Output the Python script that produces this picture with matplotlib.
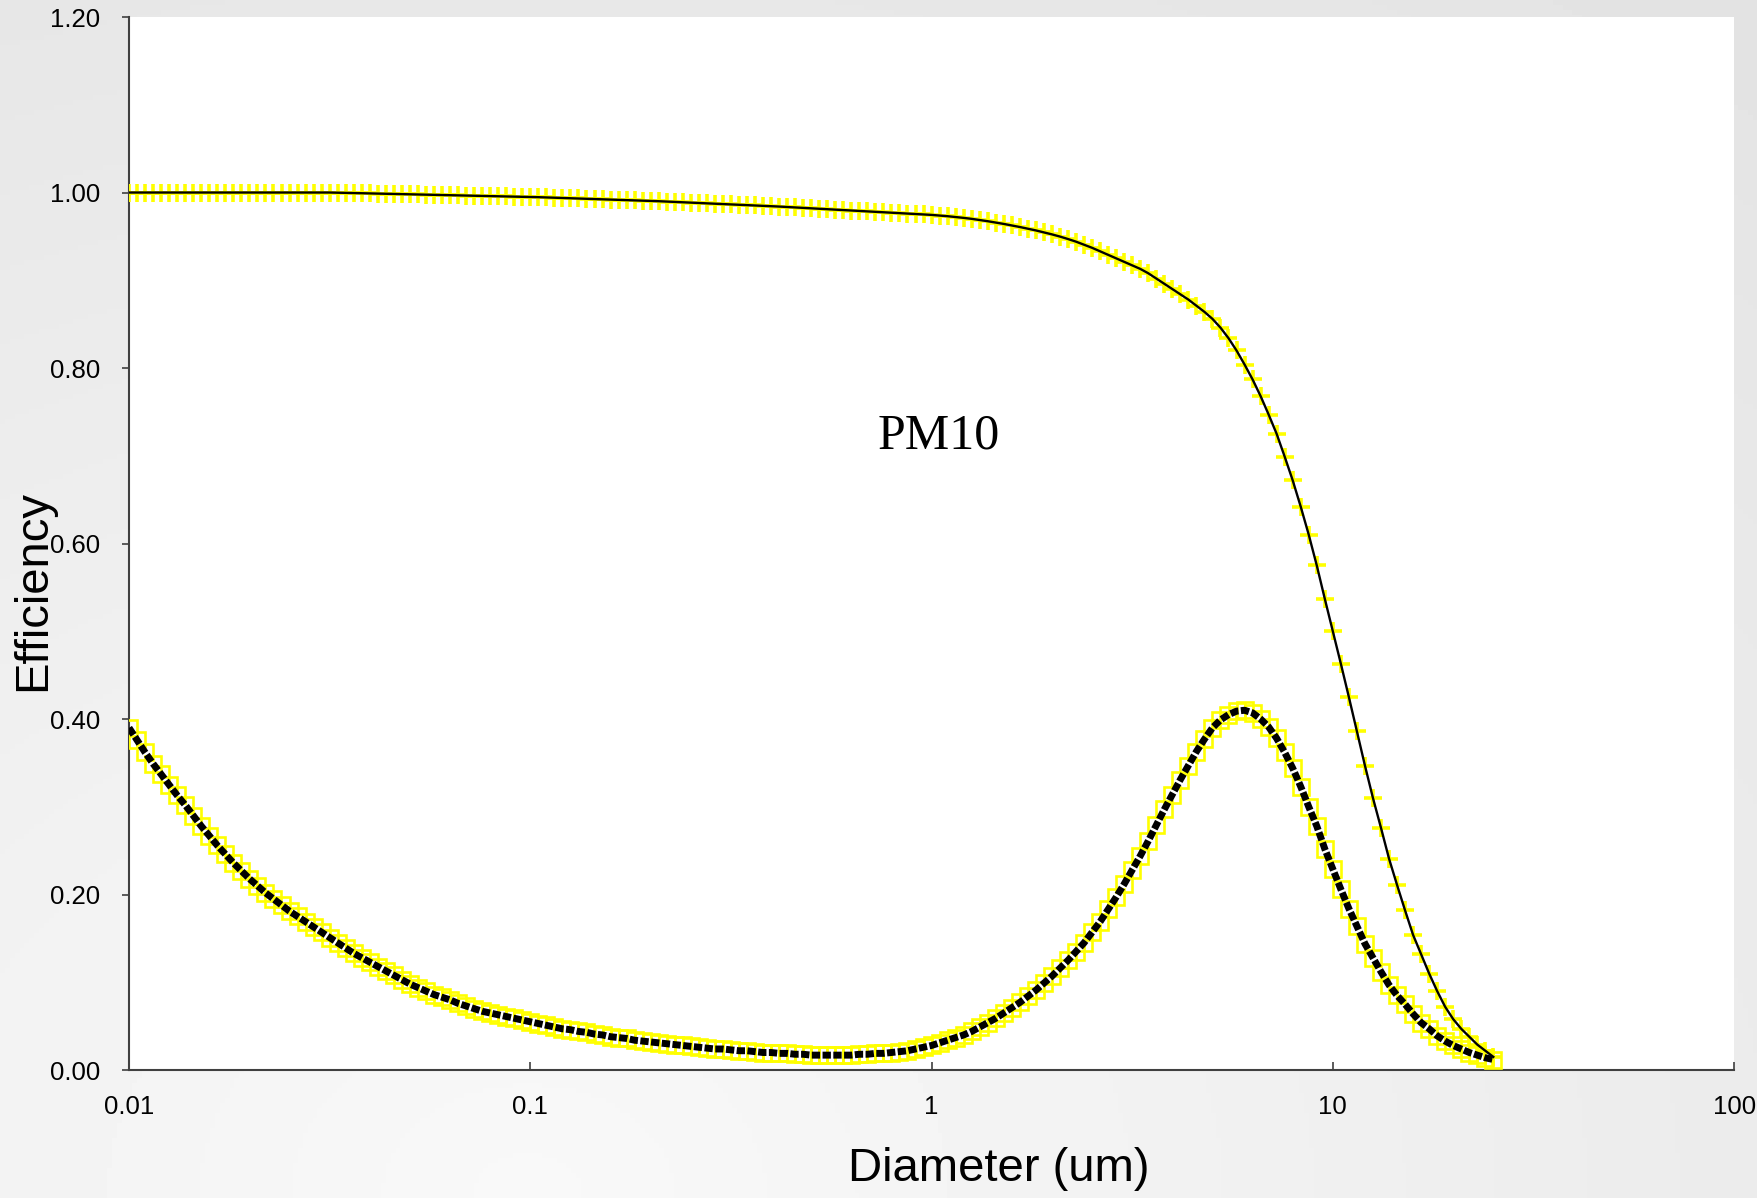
"""Recreate the PM10 efficiency chart (efficiency vs particle diameter)."""
import numpy as np
import matplotlib.pyplot as plt
from matplotlib.ticker import FixedLocator, FixedFormatter, NullLocator

plt.rcParams['font.family'] = ['Liberation Sans', 'DejaVu Sans']

# sampling grid: 50 points per decade, 0.01 um up to ~25 um
diameter_um = np.logspace(-2, 1.4, 171)

# upper curve (+ markers)
pm10_eff = (
    [1.000] * 26 +
    [0.9998, 0.9996, 0.9994, 0.9992, 0.9990, 0.9988, 0.9986, 0.9984, 0.9982, 0.9980,
     0.9978, 0.9976, 0.9974, 0.9972, 0.9970, 0.9968, 0.9966, 0.9964, 0.9962, 0.9960,
     0.9958, 0.9956, 0.9954, 0.9952, 0.9950] +
    [0.9947, 0.9944, 0.9941, 0.9938, 0.9935, 0.9932, 0.9929, 0.9926, 0.9923, 0.9920,
     0.9917, 0.9914, 0.9911, 0.9908, 0.9905, 0.9901, 0.9897, 0.9893, 0.9889, 0.9885,
     0.9881, 0.9877, 0.9873, 0.9869, 0.9865, 0.9861, 0.9857, 0.9853, 0.9849, 0.9845,
     0.9840, 0.9835, 0.9830, 0.9825, 0.9820, 0.9815, 0.9810, 0.9805, 0.9800, 0.9795,
     0.9790, 0.9785, 0.9780, 0.9775, 0.9770, 0.9765, 0.9760, 0.9755, 0.9750, 0.9745] +
    [0.9738, 0.9730, 0.9721, 0.9711, 0.9700, 0.9687, 0.9673, 0.9658, 0.9642, 0.9625,
     0.9607, 0.9588, 0.9568, 0.9546, 0.9523, 0.9498, 0.9470, 0.9440, 0.9405, 0.9370,
     0.933, 0.929, 0.925, 0.921, 0.917, 0.913, 0.908, 0.902, 0.896, 0.890,
     0.884, 0.878, 0.871, 0.864, 0.856, 0.846, 0.834, 0.820, 0.804, 0.787,
     0.768, 0.747, 0.725, 0.699, 0.672, 0.642, 0.610, 0.575, 0.537, 0.500,
     0.463, 0.425, 0.386, 0.347, 0.310, 0.276, 0.241, 0.211, 0.182, 0.154,
     0.132, 0.110, 0.090, 0.072, 0.058, 0.047, 0.038, 0.029, 0.022, 0.015]
)

# lower curve (square markers)
deposit_eff = [
    0.390, 0.376, 0.362, 0.349, 0.337, 0.325, 0.313, 0.302, 0.290, 0.278,
    0.267, 0.256, 0.246, 0.236, 0.227, 0.218, 0.210, 0.202, 0.195, 0.188,
    0.181,
    0.175, 0.169, 0.163, 0.157, 0.151, 0.145, 0.139, 0.133, 0.128, 0.123,
    0.118, 0.113, 0.108, 0.103, 0.098, 0.094, 0.090, 0.086, 0.083, 0.080,
    0.076, 0.073, 0.070, 0.067, 0.065, 0.063, 0.061, 0.059, 0.057, 0.055,
    0.053, 0.051, 0.049, 0.047, 0.046, 0.044, 0.043, 0.041, 0.040, 0.038,
    0.037, 0.036, 0.034, 0.033, 0.032, 0.031, 0.030, 0.029, 0.028, 0.027,
    0.026, 0.025, 0.024, 0.024, 0.023, 0.022, 0.022, 0.021, 0.020, 0.020,
    0.019, 0.019, 0.018, 0.018, 0.017, 0.017, 0.017, 0.017, 0.017, 0.017,
    0.018, 0.018, 0.019, 0.019, 0.020, 0.021, 0.022, 0.024, 0.026, 0.028,
    0.031, 0.034, 0.037, 0.040, 0.044, 0.049, 0.054, 0.059, 0.065, 0.071,
    0.077, 0.084, 0.091, 0.099, 0.107, 0.116, 0.125, 0.135, 0.145, 0.157,
    0.169, 0.183, 0.197, 0.212, 0.228, 0.244, 0.261, 0.279, 0.297, 0.314,
    0.331, 0.347, 0.363, 0.377, 0.390, 0.399, 0.405, 0.409, 0.410, 0.407,
    0.400, 0.391, 0.378, 0.362, 0.344, 0.323, 0.300, 0.278, 0.252, 0.229,
    0.206, 0.184, 0.164, 0.144, 0.128, 0.112, 0.097, 0.085, 0.075, 0.064,
    0.054, 0.047, 0.039, 0.033, 0.028, 0.024, 0.020, 0.017, 0.014, 0.012,
]

x_ticks = [0.01, 0.1, 1, 10, 100]
x_tick_labels = ['0.01', '0.1', '1', '10', '100']
y_ticks = [0.0, 0.2, 0.4, 0.6, 0.8, 1.0, 1.2]
y_tick_labels = ['%.2f' % v for v in y_ticks]

AXIS_COLOR = '#404040'
YELLOW = '#ffff00'


def draw_background(fig):
    """Soft grey slide-style gradient behind the plot."""
    bg = fig.add_axes([0, 0, 1, 1], zorder=-10)
    yy, xx = np.mgrid[0:1:240j, 0:1:360j]
    dist = np.sqrt((xx - 0.3) ** 2 + (yy * 0.9) ** 2)
    bg.imshow(0.975 - 0.075 * dist, cmap='gray', vmin=0, vmax=1,
              extent=[0, 1, 0, 1], origin='lower', aspect='auto')
    bg.axis('off')


def main():
    assert len(pm10_eff) == len(diameter_um) == len(deposit_eff)

    fig = plt.figure(figsize=(17.58, 11.98), dpi=100)
    draw_background(fig)

    ax = fig.add_axes([0.0734, 0.1068, 0.9130, 0.8790])
    ax.set_facecolor('white')

    # upper curve: yellow plus markers under a thin black line
    ax.plot(diameter_um, pm10_eff, linestyle='none', marker='+',
            markersize=13, markeredgewidth=2.6, color=YELLOW, zorder=3)
    ax.plot(diameter_um, pm10_eff, color='black', linewidth=1.7, zorder=4)

    # lower curve: hollow yellow squares under a thick dotted black line
    ax.plot(diameter_um, deposit_eff, linestyle='none', marker='s',
            markersize=11, markerfacecolor='none', markeredgewidth=1.9,
            markeredgecolor=YELLOW, zorder=3)
    ax.plot(diameter_um, deposit_eff, color='black', linewidth=5,
            linestyle=(0, (1.2, 0.35)), zorder=4)

    ax.text(1.04, 0.7225, 'PM10', fontsize=36, family='Liberation Serif',
            ha='center', va='center')

    ax.set_xscale('log')
    ax.set_xlim(0.01, 100)
    ax.set_ylim(0, 1.2)

    ax.xaxis.set_major_locator(FixedLocator(x_ticks))
    ax.xaxis.set_major_formatter(FixedFormatter(x_tick_labels))
    ax.xaxis.set_minor_locator(NullLocator())
    ax.yaxis.set_major_locator(FixedLocator(y_ticks))
    ax.yaxis.set_major_formatter(FixedFormatter(y_tick_labels))

    for side in ['top', 'right']:
        ax.spines[side].set_visible(False)
    for side in ['left', 'bottom']:
        ax.spines[side].set_color(AXIS_COLOR)
        ax.spines[side].set_linewidth(1.5)

    ax.tick_params(axis='y', direction='out', length=5, width=1.2,
                   color=AXIS_COLOR, pad=16, labelsize=18.5)
    ax.tick_params(axis='x', direction='in', length=6, width=1.2,
                   color=AXIS_COLOR, pad=18, labelsize=18.5)

    fig.text(0.568, 0.024, 'Diameter (um)', fontsize=34,
             ha='center', va='center')
    fig.text(0.0191, 0.5067, 'Efficiency', fontsize=34, rotation=90,
             ha='center', va='center')

    fig.savefig('out.png', dpi=100)


if __name__ == '__main__':
    main()
